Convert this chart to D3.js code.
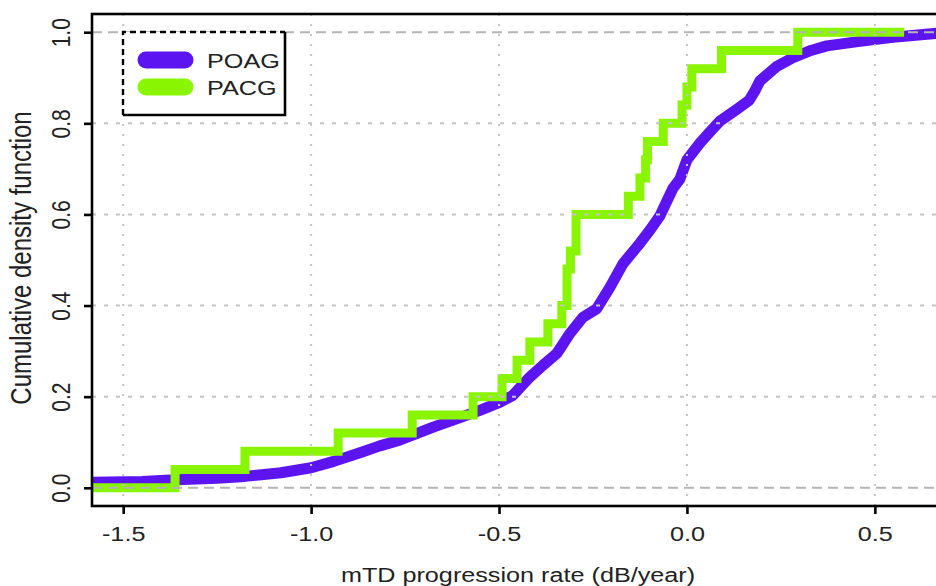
<!DOCTYPE html>
<html>
<head>
<meta charset="utf-8">
<script src="https://cdn.jsdelivr.net/npm/d3@7"></script>
<style>
  body { margin: 0; background: #fff; }
  svg text { font-family: "Liberation Sans", Arial, sans-serif; fill: #222; }
</style>
</head>
<body>
<svg id="chart" width="936" height="586"></svg>
<script>
// ecdf of mTD progression rate, POAG vs PACG

var xTicks = [-1.5, -1.0, -0.5, 0.0, 0.5];
var yTicks = [0.0, 0.2, 0.4, 0.6, 0.8, 1.0];

// POAG curve
var poagX = [-1.583, -1.45, -1.375, -1.25, -1.176, -1.08, -1.0, -0.94, -0.87, -0.817,
	     -0.763, -0.675, -0.60, -0.551, -0.497, -0.463, -0.418, -0.383, -0.346, -0.311,
	     -0.277, -0.24, -0.205, -0.17, -0.125, -0.098, -0.072, -0.037, -0.019, 0.0,
	     0.035, 0.06, 0.088, 0.133, 0.165, 0.18, 0.194, 0.239, 0.282, 0.33,
	     0.372, 0.46, 0.548, 0.684];
var poagY = [0.012, 0.014, 0.017, 0.021, 0.025, 0.033, 0.044, 0.058, 0.077, 0.092,
	     0.105, 0.133, 0.155, 0.170, 0.188, 0.203, 0.243, 0.269, 0.295, 0.339,
	     0.374, 0.393, 0.440, 0.492, 0.537, 0.566, 0.597, 0.658, 0.677, 0.720,
	     0.757, 0.780, 0.805, 0.831, 0.850, 0.870, 0.893, 0.925, 0.944, 0.960,
	     0.970, 0.980, 0.989, 0.999];

// PACG steps (x where the step happens, level after it)
var pacgX = [-1.583, -1.362, -1.176, -0.928, -0.731, -0.569, -0.492, -0.452, -0.418, -0.37,
	     -0.333, -0.319, -0.31, -0.295, -0.156, -0.125, -0.11, -0.105, -0.063, -0.013,
	     0.0, 0.013, 0.092, 0.295, 0.566];
var pacgY = [0.00, 0.04, 0.08, 0.12, 0.16, 0.20, 0.24, 0.28, 0.32, 0.36,
	     0.40, 0.48, 0.52, 0.60, 0.64, 0.68, 0.72, 0.76, 0.80, 0.84,
	     0.88, 0.92, 0.96, 1.00, 1.00];

var groups = ["POAG", "PACG"];
var colors = ["#5c14f0", "#8af500"];

var svg = d3.select("#chart"),
    plot = {left: 92, top: 14, right: 944, bottom: 506};

var x = d3.scaleLinear().domain([-1.583, 0.684]).range([plot.left, plot.right]),
    y = d3.scaleLinear().domain([-0.04, 1.04]).range([plot.bottom, plot.top]);

svg.append("defs").append("clipPath")
    .attr("id", "clip")
    .append("rect")
    .attr("x", plot.left)
    .attr("y", plot.top)
    .attr("width", plot.right - plot.left)
    .attr("height", plot.bottom - plot.top);

var lines = svg.append("g").attr("clip-path", "url(#clip)");

var poag = poagX.map(function(d, i) { return [d, poagY[i]]; });
var pacg = pacgX.map(function(d, i) { return [d, pacgY[i]]; });

lines.append("path")
    .datum(poag)
    .attr("fill", "none")
    .attr("stroke", colors[0])
    .attr("stroke-width", 11)
    .attr("stroke-linejoin", "round")
    .attr("d", d3.line()
	  .x(function(d) { return x(d[0]); })
	  .y(function(d) { return y(d[1]); }));

lines.append("path")
    .datum(pacg)
    .attr("fill", "none")
    .attr("stroke", colors[1])
    .attr("stroke-width", 9)
    .attr("stroke-linejoin", "miter")
    .attr("stroke-linecap", "square")
    .attr("d", d3.line()
	  .curve(d3.curveStepAfter)
	  .x(function(d) { return x(d[0]); })
	  .y(function(d) { return y(d[1]); }));

// grid goes on top of the curves, like grid() after plot()
var grid = svg.append("g");

grid.selectAll(".vgrid")
    .data(xTicks)
    .enter().append("line")
    .attr("x1", function(d) { return x(d); })
    .attr("x2", function(d) { return x(d); })
    .attr("y1", plot.top)
    .attr("y2", plot.bottom)
    .attr("stroke", "#c4c4c4")
    .attr("stroke-width", 2)
    .attr("stroke-dasharray", "2,8");

grid.selectAll(".hgrid")
    .data(yTicks)
    .enter().append("line")
    .attr("x1", plot.left)
    .attr("x2", plot.right)
    .attr("y1", function(d) { return y(d); })
    .attr("y2", function(d) { return y(d); })
    .attr("stroke", function(d) { return (d == 0 || d == 1) ? "#b4b4b4" : "#c4c4c4"; })
    .attr("stroke-width", 2)
    .attr("stroke-dasharray", function(d) { return (d == 0 || d == 1) ? "10,6" : "4,8"; });

// frame
svg.append("rect")
    .attr("x", plot.left)
    .attr("y", plot.top)
    .attr("width", plot.right - plot.left)
    .attr("height", plot.bottom - plot.top)
    .attr("fill", "none")
    .attr("stroke", "#000")
    .attr("stroke-width", 2.6);

// axes, R style: ticks outside, text stretched a bit horizontally
var xAxis = svg.append("g")
    .attr("transform", "translate(0," + plot.bottom + ")")
    .call(d3.axisBottom(x).tickValues(xTicks).tickSize(8));
xAxis.select(".domain").remove();
xAxis.selectAll(".tick line").attr("stroke", "#000").attr("stroke-width", 2.6);
xAxis.selectAll(".tick text").remove();
xAxis.selectAll(".tick").append("text")
    .attr("transform", "translate(0,35) scale(1.2,1)")
    .attr("text-anchor", "middle")
    .style("font-size", "21px")
    .text(function(d) { return d3.format(".1f")(d).replace("−", "-"); });

var yAxis = svg.append("g")
    .attr("transform", "translate(" + plot.left + ",0)")
    .call(d3.axisLeft(y).tickValues(yTicks).tickSize(8));
yAxis.select(".domain").remove();
yAxis.selectAll(".tick line").attr("stroke", "#000").attr("stroke-width", 2.6);
yAxis.selectAll(".tick text").remove();
yAxis.selectAll(".tick").append("text")
    .attr("transform", "translate(-22,0) scale(1.2,1) rotate(-90)")
    .attr("text-anchor", "middle")
    .style("font-size", "21px")
    .text(function(d) { return d3.format(".1f")(d); });

svg.append("text")
    .attr("transform", "translate(518,582) scale(1.2,1)")
    .attr("text-anchor", "middle")
    .style("font-size", "21px")
    .text("mTD progression rate (dB/year)");

svg.append("text")
    .attr("transform", "translate(31,258) scale(1.2,1) rotate(-90)")
    .attr("text-anchor", "middle")
    .style("font-size", "24px")
    .text("Cumulative density function");

// legend
var leg = {left: 123, top: 32, right: 285, bottom: 115};
var legend = svg.append("g");

legend.append("rect")
    .attr("x", leg.left)
    .attr("y", leg.top)
    .attr("width", leg.right - leg.left)
    .attr("height", leg.bottom - leg.top)
    .attr("fill", "#fff");

legend.append("path")
    .attr("d", "M" + leg.left + "," + leg.bottom + "V" + leg.top + "H" + leg.right)
    .attr("fill", "none")
    .attr("stroke", "#000")
    .attr("stroke-width", 2.4)
    .attr("stroke-dasharray", "6,4");

legend.append("path")
    .attr("d", "M" + leg.right + "," + leg.top + "V" + leg.bottom + "H" + leg.left)
    .attr("fill", "none")
    .attr("stroke", "#000")
    .attr("stroke-width", 2.6);

var items = legend.selectAll(".item")
    .data(groups)
    .enter().append("g")
    .attr("transform", function(d, i) { return "translate(0," + (60 + i * 27) + ")"; });

items.append("line")
    .attr("x1", 146)
    .attr("x2", 185)
    .attr("stroke", function(d, i) { return colors[i]; })
    .attr("stroke-width", 17)
    .attr("stroke-linecap", "round");

items.append("text")
    .attr("transform", "translate(207,8) scale(1.2,1)")
    .style("font-size", "21px")
    .text(function(d) { return d; });
</script>
</body>
</html>
